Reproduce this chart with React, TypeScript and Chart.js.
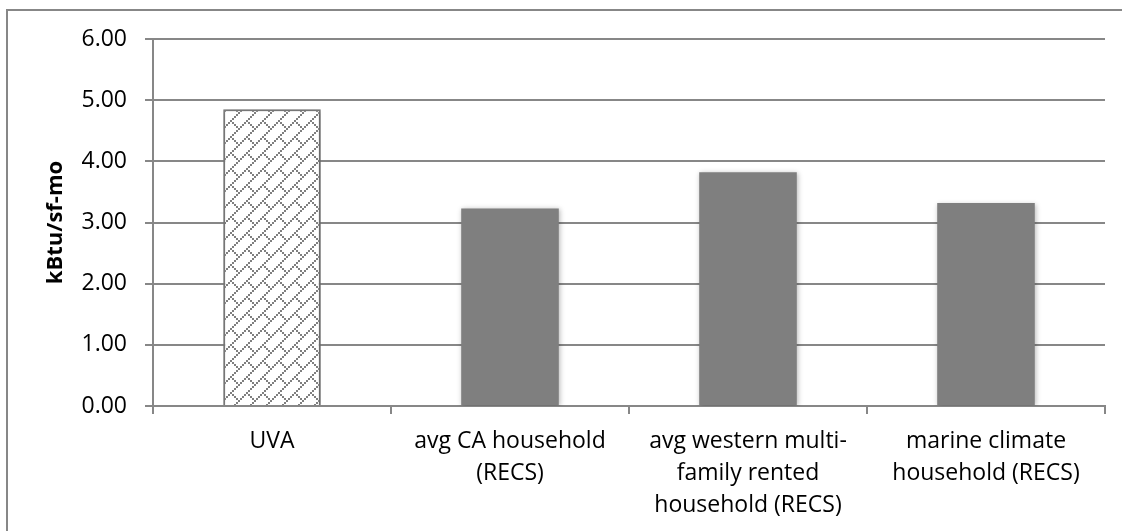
import React, { useEffect, useRef } from "react";
import { Chart, registerables } from "chart.js";

Chart.register(...registerables);

// Monthly energy intensity by household group
const categories: string[][] = [
  ["UVA"],
  ["avg CA household", "(RECS)"],
  ["avg western multi-", "family rented", "household (RECS)"],
  ["marine climate", "household (RECS)"],
];
const values: number[] = [4.85, 3.23, 3.82, 3.32];
const yMin = 0;
const yMax = 6;
const yStep = 1;
const yTitle = "kBtu/sf-mo";

const GRAY = "#7f7f7f";
const LINE = "#878787";
const FONT = "'Open Sans', 'Liberation Sans', sans-serif";

// Diagonal brick fill: 8x8 bit tile, each bit drawn as a 2x2 block
function brickPattern(ctx: CanvasRenderingContext2D): CanvasPattern | string {
  const rows: number[][] = [[7], [6], [5], [4], [3], [2, 4], [1, 5], [0, 6]];
  const s = 2;
  const c = document.createElement("canvas");
  c.width = 8 * s;
  c.height = 8 * s;
  const g = c.getContext("2d");
  if (!g) return GRAY;
  g.fillStyle = "#ffffff";
  g.fillRect(0, 0, c.width, c.height);
  g.fillStyle = GRAY;
  rows.forEach((cols, r) => cols.forEach((col) => g.fillRect(col * s, r * s, s, s)));
  return ctx.createPattern(c, "repeat") || GRAY;
}

// White page with the chart frame's left and top edges
const framePlugin = {
  id: "frame",
  beforeDraw(chart: Chart) {
    const { ctx, width, height } = chart;
    ctx.save();
    ctx.fillStyle = "#ffffff";
    ctx.fillRect(0, 0, width, height);
    ctx.strokeStyle = LINE;
    ctx.lineWidth = 2;
    ctx.beginPath();
    ctx.moveTo(7, height + 2);
    ctx.lineTo(7, 10);
    ctx.lineTo(width + 2, 10);
    ctx.stroke();
    ctx.restore();
  },
};

// Soft drop shadow under the bars
const shadowPlugin = {
  id: "barShadow",
  beforeDatasetsDraw(chart: Chart) {
    const ctx = chart.ctx;
    ctx.save();
    ctx.shadowColor = "rgba(0,0,0,0.28)";
    ctx.shadowBlur = 5;
    ctx.shadowOffsetX = 1;
    ctx.shadowOffsetY = 1;
  },
  afterDatasetsDraw(chart: Chart) {
    chart.ctx.restore();
  },
};

export default function App() {
  const canvasRef = useRef<HTMLCanvasElement | null>(null);

  useEffect(() => {
    document.body.style.margin = "0";
    const canvas = canvasRef.current;
    if (!canvas) return;
    const ctx = canvas.getContext("2d");
    if (!ctx) return;
    const hatch = brickPattern(ctx);

    const chart = new Chart(ctx, {
      type: "bar",
      data: {
        labels: categories,
        datasets: [
          {
            data: values,
            backgroundColor: values.map((_, i) => (i === 0 ? hatch : GRAY)),
            borderColor: GRAY,
            borderWidth: values.map((_, i) => (i === 0 ? 2 : 0)),
            barPercentage: 0.41,
            categoryPercentage: 1,
          },
        ],
      },
      options: {
        responsive: false,
        animation: false,
        events: [],
        layout: { padding: { top: 39, right: 17, bottom: 0, left: 0 } },
        plugins: {
          legend: { display: false },
          tooltip: { enabled: false },
          title: { display: false },
        },
        scales: {
          x: {
            offset: true,
            grid: {
              offset: true,
              drawOnChartArea: false,
              drawTicks: true,
              tickLength: 8,
              color: LINE,
              lineWidth: 2,
            },
            border: { display: true, color: LINE, width: 2 },
            ticks: {
              color: "#000000",
              font: { family: FONT, size: 23, lineHeight: 1.4 },
              padding: 11,
              maxRotation: 0,
              autoSkip: false,
            },
            afterFit: (s: any) => {
              s.height = 125;
            },
          },
          y: {
            min: yMin,
            max: yMax,
            grid: {
              color: LINE,
              lineWidth: 2,
              drawTicks: true,
              tickLength: 8,
            },
            border: { display: true, color: LINE, width: 2 },
            ticks: {
              stepSize: yStep,
              color: "#000000",
              font: { family: FONT, size: 23 },
              padding: 18,
              callback: (v: any) => Number(v).toFixed(2),
            },
            title: {
              display: true,
              text: yTitle,
              color: "#000000",
              font: { family: FONT, size: 22, weight: "bold" },
              padding: { top: 43, bottom: 0 },
            },
            afterFit: (s: any) => {
              s.width = 153;
            },
          },
        },
      },
      plugins: [framePlugin, shadowPlugin],
    });

    return () => chart.destroy();
  }, []);

  return (
    <div style={{ width: 1122, height: 531, overflow: "hidden", position: "relative" }}>
      <canvas ref={canvasRef} width={1122} height={531} style={{ display: "block", width: 1122, height: 531 }} />
    </div>
  );
}
